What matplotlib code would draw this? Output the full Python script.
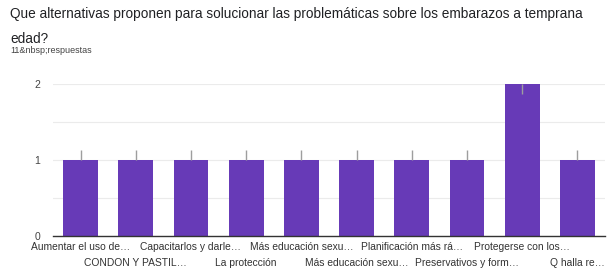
import matplotlib
matplotlib.use("Agg")
import matplotlib.pyplot as plt
from matplotlib.transforms import blended_transform_factory, offset_copy

categories = ["Aumentar el uso de…", "CONDON Y PASTIL…", "Capacitarlos y darle…",
              "La protección", "Más educación sexu…", "Más educación sexu…",
              "Planificación más rá…", "Preservativos y form…", "Protegerse con los…",
              "Q halla re…"]
values = [1, 1, 1, 1, 1, 1, 1, 1, 2, 1]
yticks = [0, 1, 2]
title = "Que alternativas proponen para solucionar las problemáticas sobre los embarazos a temprana\nedad?"
subtitle = "11&nbsp;respuestas"

plt.rcParams['font.family'] = ['Liberation Sans', 'DejaVu Sans']
fig = plt.figure(figsize=(6.12, 2.68), dpi=100)
ax = fig.add_axes([53/612, 1 - 236/268, 552/612, 152/268])

x = list(range(len(values)))
ax.bar(x, values, width=0.63, color="#673ab7", zorder=3)
for xi, v in zip(x, values):
    if v >= max(yticks):
        ax.plot([xi, xi], [v, v - 0.13], color="#9e9e9e", lw=1, zorder=4, solid_capstyle='butt')
    else:
        ax.plot([xi, xi], [v, v + 0.13], color="#9e9e9e", lw=1, zorder=4, solid_capstyle='butt')

ax.set_xlim(-0.5, len(values) - 0.5)
ax.set_ylim(0, 2)
ax.set_yticks(yticks)
ax.set_yticks([0.5, 1.5], minor=True)
ax.grid(axis='y', which='both', color="#ebebeb", lw=0.8, zorder=0)
ax.tick_params(axis='y', which='both', length=0, labelsize=7.5, labelcolor="#444444", pad=9)
ax.set_xticks(x)
ax.set_xticklabels([])
ax.tick_params(axis='x', length=0)

trans = blended_transform_factory(ax.transData, ax.transAxes)
for i, c in enumerate(categories):
    dy = -11.5 if i % 2 == 0 else -27.5
    t = offset_copy(trans, fig=fig, x=0, y=dy, units='dots')
    ax.text(i, 0, c, transform=t, ha='center', va='center', fontsize=7.4, color="#333333")

for s in ['top', 'right', 'left']:
    ax.spines[s].set_visible(False)
ax.spines['bottom'].set_color("#333333")
ax.spines['bottom'].set_linewidth(1)
ax.spines['bottom'].set_zorder(5)

fig.text(10/612, 1 - 7/268, title, fontsize=9.8, color="#202124", va='top', ha='left', linespacing=2.0)
fig.text(10/612, 1 - 46/268, subtitle, fontsize=6.5, color="#444444", va='top', ha='left')

fig.savefig("out.png", dpi=100)
